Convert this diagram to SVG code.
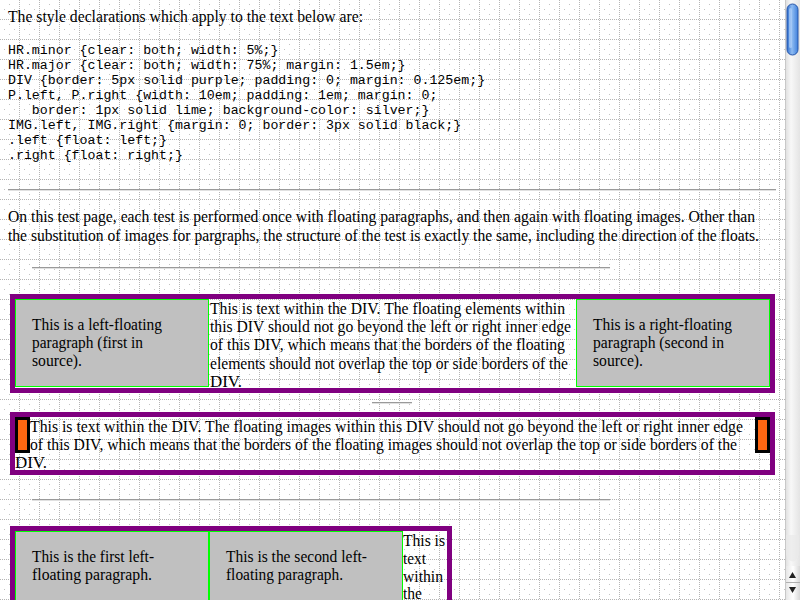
<svg xmlns="http://www.w3.org/2000/svg" width="800" height="600" viewBox="0 0 800 600">
<style>
.serif{font-family:"Liberation Serif","Times New Roman",serif;font-size:16px;fill:#000}
.mono{font-family:"Liberation Mono","Courier New",monospace;font-size:13.25px;fill:#000}
.div{fill:none;stroke:#800080;stroke-width:5}
.para{fill:#c0c0c0;stroke:#00ff00;stroke-width:1}
.img{fill:#ff6611;stroke:#000;stroke-width:3}
.hr1{fill:#9a9a9a}
.hr2{fill:#e0e0e0}
</style>
<defs>
<pattern id="grid" patternUnits="userSpaceOnUse" x="0" y="0" width="20" height="20">
<line x1="19.5" y1="0" x2="19.5" y2="20" stroke="#b4b4b4" stroke-width="1" stroke-dasharray="1 1"/>
<line x1="0" y1="19.5" x2="20" y2="19.5" stroke="#b4b4b4" stroke-width="1" stroke-dasharray="1 1"/>
<rect x="9" y="4" width="1" height="1" fill="#c4c4c4"/>
<rect x="4" y="9" width="1" height="1" fill="#c4c4c4"/>
<rect x="14" y="9" width="1" height="1" fill="#c4c4c4"/>
<rect x="9" y="14" width="1" height="1" fill="#c4c4c4"/>
</pattern>
<linearGradient id="track" x1="0" y1="0" x2="1" y2="0">
<stop offset="0" stop-color="#dcdcdc"/>
<stop offset="0.4" stop-color="#f8f8f8"/>
<stop offset="1" stop-color="#e4e4e4"/>
</linearGradient>
<linearGradient id="thumb" x1="0" y1="0" x2="1" y2="0">
<stop offset="0" stop-color="#2f6fd0"/>
<stop offset="0.45" stop-color="#8fbcf2"/>
<stop offset="1" stop-color="#3f80dc"/>
</linearGradient>
<linearGradient id="btn" x1="0" y1="0" x2="1" y2="0">
<stop offset="0" stop-color="#e6e6e6"/>
<stop offset="0.5" stop-color="#ffffff"/>
<stop offset="1" stop-color="#d8d8d8"/>
</linearGradient>
</defs>

<rect x="0" y="0" width="800" height="600" fill="#fff"/>
<rect x="0" y="0" width="785" height="600" fill="url(#grid)"/>

<g id="intro">
<text class="serif" x="8" y="22" textLength="355" lengthAdjust="spacingAndGlyphs">The style declarations which apply to the text below are:</text>
<text class="mono" xml:space="preserve"><tspan x="8" y="54">HR.minor {clear: both; width: 5%;}</tspan><tspan x="8" y="69">HR.major {clear: both; width: 75%; margin: 1.5em;}</tspan><tspan x="8" y="84">DIV {border: 5px solid purple; padding: 0; margin: 0.125em;}</tspan><tspan x="8" y="99">P.left, P.right {width: 10em; padding: 1em; margin: 0;</tspan><tspan x="8" y="114">   border: 1px solid lime; background-color: silver;}</tspan><tspan x="8" y="129">IMG.left, IMG.right {margin: 0; border: 3px solid black;}</tspan><tspan x="8" y="144">.left {float: left;}</tspan><tspan x="8" y="159">.right {float: right;}</tspan></text>
</g>

<g id="hr-1"><rect class="hr1" x="8" y="189" width="768" height="1"/><rect class="hr2" x="8" y="190" width="768" height="1"/></g>

<g id="explain">
<text class="serif" x="8" y="222" textLength="747" lengthAdjust="spacingAndGlyphs">On this test page, each test is performed once with floating paragraphs, and then again with floating images. Other than</text>
<text class="serif" x="8" y="240.5" textLength="751" lengthAdjust="spacingAndGlyphs">the substitution of images for pargraphs, the structure of the test is exactly the same, including the direction of the floats.</text>
</g>

<g id="hr-major-1"><rect class="hr1" x="32" y="267" width="578" height="1"/><rect class="hr2" x="32" y="268" width="578" height="1"/></g>

<g id="div-1">
<rect class="div" x="12.5" y="296.5" width="760" height="94"/>
<rect class="para" x="15.5" y="299.5" width="193" height="87"/>
<text class="serif" x="32" y="330" textLength="130" lengthAdjust="spacingAndGlyphs">This is a left-floating</text>
<text class="serif" x="32" y="348" textLength="111" lengthAdjust="spacingAndGlyphs">paragraph (first in</text>
<text class="serif" x="32" y="366" textLength="50" lengthAdjust="spacingAndGlyphs">source).</text>
<rect class="para" x="576.5" y="299.5" width="193" height="87"/>
<text class="serif" x="593" y="330" textLength="139" lengthAdjust="spacingAndGlyphs">This is a right-floating</text>
<text class="serif" x="593" y="348" textLength="131" lengthAdjust="spacingAndGlyphs">paragraph (second in</text>
<text class="serif" x="593" y="366" textLength="50" lengthAdjust="spacingAndGlyphs">source).</text>
<text class="serif" x="210" y="313.5" textLength="355" lengthAdjust="spacingAndGlyphs">This is text within the DIV. The floating elements within</text>
<text class="serif" x="210" y="331.8" textLength="361" lengthAdjust="spacingAndGlyphs">this DIV should not go beyond the left or right inner edge</text>
<text class="serif" x="210" y="350.2" textLength="355" lengthAdjust="spacingAndGlyphs">of this DIV, which means that the borders of the floating</text>
<text class="serif" x="210" y="368.5" textLength="358" lengthAdjust="spacingAndGlyphs">elements should not overlap the top or side borders of the</text>
<text class="serif" x="210" y="386.9" textLength="32" lengthAdjust="spacingAndGlyphs">DIV.</text>
</g>

<g id="hr-minor"><rect class="hr1" x="372" y="402" width="40" height="1"/><rect class="hr2" x="372" y="403" width="40" height="1"/></g>

<g id="div-2">
<rect class="div" x="12.5" y="414.5" width="760" height="58"/>
<rect class="img" x="16.5" y="418.5" width="12" height="33"/>
<rect class="img" x="756.5" y="418.5" width="12" height="33"/>
<text class="serif" x="30" y="431.5" textLength="713" lengthAdjust="spacingAndGlyphs">This is text within the DIV. The floating images within this DIV should not go beyond the left or right inner edge</text>
<text class="serif" x="30" y="449.9" textLength="707" lengthAdjust="spacingAndGlyphs">of this DIV, which means that the borders of the floating images should not overlap the top or side borders of the</text>
<text class="serif" x="15" y="468.3" textLength="32" lengthAdjust="spacingAndGlyphs">DIV.</text>
</g>

<g id="hr-major-2"><rect class="hr1" x="32" y="499" width="578" height="1"/><rect class="hr2" x="32" y="500" width="578" height="1"/></g>

<g id="div-3">
<rect class="div" x="12.5" y="528.5" width="437" height="90"/>
<rect class="para" x="15.5" y="531.5" width="193" height="87"/>
<text class="serif" x="32" y="562" textLength="122" lengthAdjust="spacingAndGlyphs">This is the first left-</text>
<text class="serif" x="32" y="580.4" textLength="120" lengthAdjust="spacingAndGlyphs">floating paragraph.</text>
<rect class="para" x="209.5" y="531.5" width="193" height="87"/>
<text class="serif" x="226" y="562" textLength="141" lengthAdjust="spacingAndGlyphs">This is the second left-</text>
<text class="serif" x="226" y="580.4" textLength="117" lengthAdjust="spacingAndGlyphs">floating paragraph.</text>
<text class="serif" x="403" y="545.5" textLength="42" lengthAdjust="spacingAndGlyphs">This is</text>
<text class="serif" x="403" y="563.9" textLength="23" lengthAdjust="spacingAndGlyphs">text</text>
<text class="serif" x="403" y="582.2" textLength="40" lengthAdjust="spacingAndGlyphs">within</text>
<text class="serif" x="403" y="598.5" textLength="19" lengthAdjust="spacingAndGlyphs">the</text>
</g>

<g id="scrollbar">
<rect x="785" y="0" width="15" height="600" fill="url(#track)"/>
<line x1="785.5" y1="0" x2="785.5" y2="600" stroke="#c8c8c8"/>
<rect x="787" y="4" width="11" height="51" rx="5.5" fill="url(#thumb)" stroke="#2856a8" stroke-width="1"/>
<rect x="789" y="8" width="3" height="40" rx="1.5" fill="#b8d6fa" opacity="0.6"/>
<path d="M786 535 L786 555 Q792.5 568 799 555 L799 535 Z" fill="#e9e9e9" opacity="0.7"/>
<rect x="786" y="566" width="14" height="34" fill="url(#btn)"/>
<line x1="786" y1="582.5" x2="800" y2="582.5" stroke="#b0b0b0"/>
<path d="M789 578 L796 578 L792.5 572 Z" fill="#222"/>
<path d="M789 587 L796 587 L792.5 593 Z" fill="#222"/>
</g>
</svg>
